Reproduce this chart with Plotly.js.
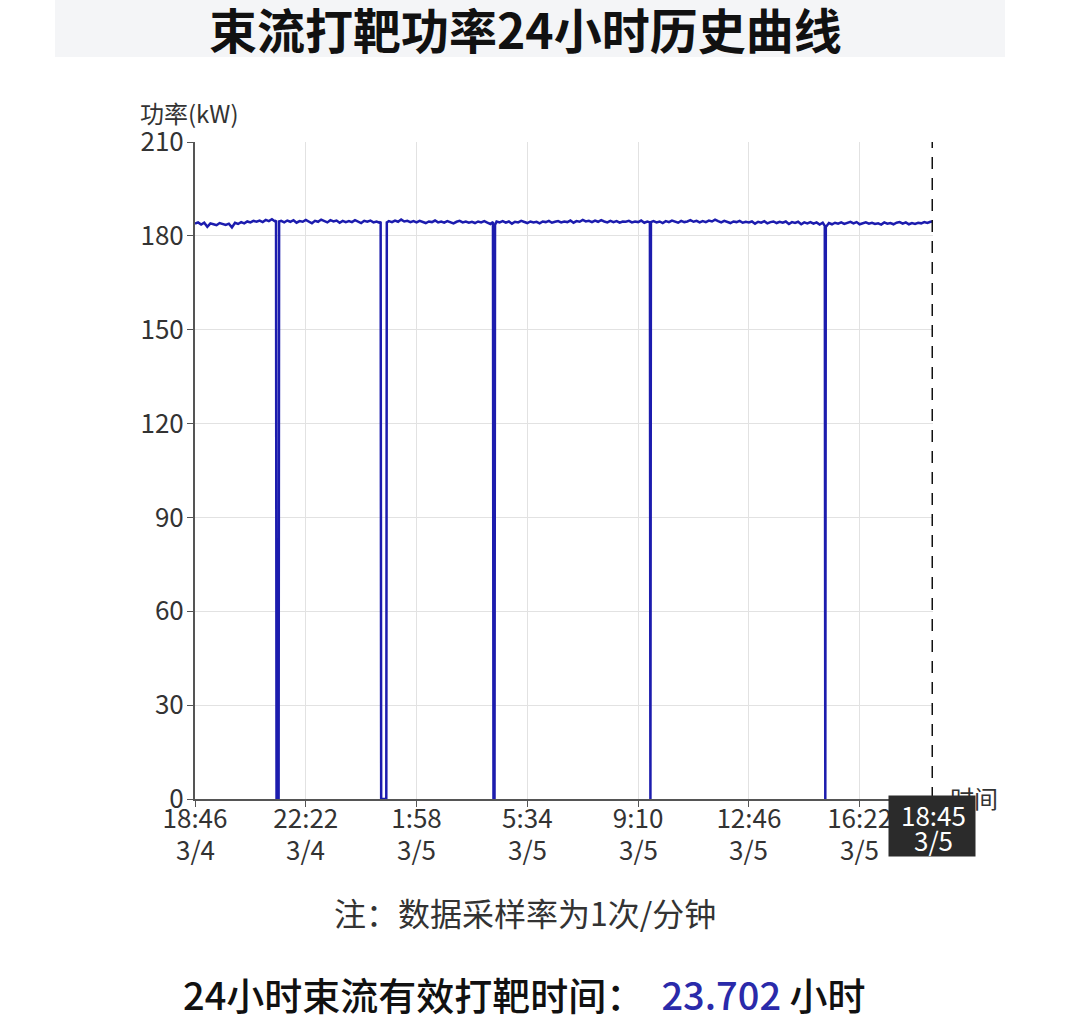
<!DOCTYPE html>
<html lang="zh-CN">
<head>
<meta charset="utf-8">
<title>束流打靶功率24小时历史曲线</title>
<script src="https://cdn.plot.ly/plotly-3.0.1.min.js"></script>
<style>
  html, body { margin: 0; padding: 0; background: #ffffff; }
  #grafico { width: 1078px; height: 1031px; }
</style>
</head>
<body>
<div id="grafico"></div>
<script>
// minutos desde 18:46 del 3/4 (muestreo, con las caídas a 0)
const minutos = [
  0, 6, 12, 18, 24, 30, 36, 42, 48, 54,
  60, 66, 72, 78, 84, 90, 96, 102, 108, 114,
  120, 126, 132, 138, 144, 150, 156, 158, 159, 163, 164, 168, 174,
  180, 186, 192, 198, 204, 210, 216, 222, 228, 234,
  240, 246, 252, 258, 264, 270, 276, 282, 288, 294,
  300, 306, 312, 318, 324, 330, 336, 342, 348, 354,
  360, 362, 363, 373, 374, 378, 384, 390, 396, 402, 408, 414,
  420, 426, 432, 438, 444, 450, 456, 462, 468, 474,
  480, 486, 492, 498, 504, 510, 516, 522, 528, 534,
  540, 546, 552, 558, 564, 570, 576, 581, 582, 584, 585, 588, 594,
  600, 606, 612, 618, 624, 630, 636, 642, 648, 654,
  660, 666, 672, 678, 684, 690, 696, 702, 708, 714,
  720, 726, 732, 738, 744, 750, 756, 762, 768, 774,
  780, 786, 792, 798, 804, 810, 816, 822, 828, 834,
  840, 846, 852, 858, 864, 870, 876, 882, 887, 888, 889, 894,
  900, 906, 912, 918, 924, 930, 936, 942, 948, 954,
  960, 966, 972, 978, 984, 990, 996, 1002, 1008, 1014,
  1020, 1026, 1032, 1038, 1044, 1050, 1056, 1062, 1068, 1074,
  1080, 1086, 1092, 1098, 1104, 1110, 1116, 1122, 1128, 1134,
  1140, 1146, 1152, 1158, 1164, 1170, 1176, 1182, 1188, 1194,
  1200, 1206, 1212, 1218, 1224, 1228, 1229, 1230, 1236, 1242, 1248, 1254,
  1260, 1266, 1272, 1278, 1284, 1290, 1296, 1302, 1308, 1314,
  1320, 1326, 1332, 1338, 1344, 1350, 1356, 1362, 1368, 1374,
  1380, 1386, 1392, 1398, 1404, 1410, 1416, 1422, 1428, 1434, 1439
];

// potencia en kW
const potencia = [
  183.9, 184.3, 183.6, 184.2, 182.9, 184.0, 183.7, 183.4, 184.1, 183.8,
  183.5, 183.9, 182.7, 184.2, 183.8, 184.4, 184.0, 184.6, 184.3, 184.8,
  184.5, 184.9, 184.4, 185.1, 184.7, 185.3, 184.6, 184.9, 0, 0, 184.6, 184.8, 184.3,
  184.9, 184.5, 185.0, 184.2, 184.7, 184.5, 185.1, 184.6, 184.0, 184.8,
  184.5, 185.2, 184.7, 184.3, 185.0, 184.6, 184.9, 184.2, 184.8, 184.4,
  184.7, 184.4, 185.0, 184.6, 184.1, 184.8, 184.5, 184.9, 184.3, 184.6,
  184.2, 184.5, 0, 0, 184.3, 184.7, 184.4, 184.9, 184.5, 185.2, 184.6, 184.8,
  184.4, 184.7, 184.3, 184.8, 184.5, 184.1, 184.6, 184.4, 184.9, 184.3,
  184.6, 184.2, 184.7, 184.4, 184.0, 184.5, 184.8, 184.3, 184.6, 184.2,
  184.5, 184.1, 184.6, 184.3, 184.7, 184.2, 183.8, 184.4, 0, 0, 183.5, 184.6, 184.3,
  184.7, 184.2, 184.6, 183.9, 184.5, 184.3, 184.8, 184.4, 184.1, 184.6,
  184.3, 184.5, 184.0, 184.6, 184.4, 184.8, 184.2, 184.5, 184.7, 184.3,
  184.6, 184.4, 184.9, 184.2, 184.7, 184.5, 185.1, 184.6, 184.8, 184.4,
  184.9, 184.5, 185.0, 184.6, 184.3, 184.8, 184.4, 184.7, 184.2, 184.6,
  184.5, 184.8, 184.3, 184.6, 184.4, 184.9, 184.2, 184.6, 184.3, 0, 184.4, 184.7,
  184.3, 184.6, 184.1, 184.7, 184.4, 184.9, 184.5, 184.2, 184.8, 184.4,
  184.6, 185.0, 184.5, 184.8, 184.3, 184.7, 184.4, 184.9, 184.6, 185.2,
  184.7, 184.3, 184.8, 184.5, 184.1, 184.6, 184.4, 184.8, 184.2, 184.5,
  184.3, 184.6, 183.9, 184.5, 184.2, 184.7, 184.0, 184.4, 184.6, 184.1,
  184.5, 184.2, 184.6, 183.8, 184.4, 184.1, 184.5, 183.7, 184.3, 184.0,
  184.4, 183.9, 184.3, 183.6, 184.2, 183.2, 0, 182.8, 184.1, 183.7, 184.2, 183.9,
  184.3, 183.8, 184.2, 184.5, 184.0, 184.4, 183.7, 184.1, 184.3, 183.9,
  184.2, 183.8, 184.0, 183.6, 184.3, 183.9, 184.1, 183.7, 184.2, 184.4,
  183.9, 184.3, 183.7, 184.1, 183.8, 184.2, 184.0, 184.4, 184.1, 184.5, 184.6
];

const posTicks = [0, 216, 432, 648, 864, 1080, 1296];
const horasTicks = ['18:46', '22:22', '1:58', '5:34', '9:10', '12:46', '16:22'];
const fechasTicks = ['3/4', '3/4', '3/5', '3/5', '3/5', '3/5', '3/5'];
const minutoFinal = 1439;
const horaFinal = '18:45';
const fechaFinal = '3/5';
const ticksPotencia = [0, 30, 60, 90, 120, 150, 180, 210];

const titulo = '束流打靶功率24小时历史曲线';
const nota = '注：数据采样率为1次/分钟';
const horasEfectivas = '23.702';

const FUENTE = '"Noto Sans CJK SC", "Noto Sans", sans-serif';

// area de trazado en pixeles: x 195..933, y 142..799
const IZQ = 195, DER = 933, ARR = 142, ABA = 799;
const px = (x) => (x - IZQ) / (DER - IZQ);
const py = (y) => (ABA - y) / (ABA - ARR);

const traza = {
  x: minutos,
  y: potencia,
  mode: 'lines',
  line: { color: '#1c1cae', width: 2.5 },
  hoverinfo: 'skip'
};

function texto(x, y, contenido, tam, color, extra) {
  return Object.assign({
    xref: 'paper', yref: 'paper', x: x, y: y,
    xanchor: 'center', yanchor: 'middle', showarrow: false,
    text: contenido,
    font: { family: FUENTE, size: tam, color: color }
  }, extra || {});
}

const anotaciones = [
  texto(px(525), py(28), titulo, 48, '#111111', {
    font: { family: FUENTE, size: 48, color: '#111111', weight: 'bold' }
  }),
  texto(px(138), py(113), '功率(kW)', 24, '#333333', { xanchor: 'left' }),
  texto(px(948), py(797), '时间', 24, '#333333', { xanchor: 'left' })
];

// segunda linea de las etiquetas del eje x (fecha)
posTicks.forEach((m, i) => {
  anotaciones.push(texto(m, py(848), fechasTicks[i], 26, '#333333', { xref: 'x' }));
});

// etiqueta oscura del ultimo punto
anotaciones.push(texto(px(932), py(826), ' ', 10, '#ffffff', {
  bgcolor: '#2b2b2b', width: 84, height: 58
}));
anotaciones.push(texto(minutoFinal, py(814), horaFinal, 26, '#ffffff', { xref: 'x' }));
anotaciones.push(texto(minutoFinal, py(839), fechaFinal, 26, '#ffffff', { xref: 'x' }));

anotaciones.push(texto(px(525), py(912), nota, 32, '#333333'));
anotaciones.push(texto(px(524), py(993),
  '24小时束流有效打靶时间：  <span style="color:#2a2aaa">' + horasEfectivas + '</span> 小时',
  38, '#111111', { font: { family: FUENTE, size: 38, color: '#111111', weight: 500 } }));

const layout = {
  width: 1078,
  height: 1031,
  margin: { l: IZQ, r: 1078 - DER, t: ARR, b: 1031 - ABA },
  paper_bgcolor: '#ffffff',
  plot_bgcolor: '#ffffff',
  showlegend: false,
  font: { family: FUENTE, color: '#333333' },
  xaxis: {
    range: [0, minutoFinal],
    tickmode: 'array',
    tickvals: posTicks,
    ticktext: horasTicks,
    tickfont: { size: 26, color: '#333333' },
    ticklabelstandoff: -10,
    ticks: 'outside',
    ticklen: 6,
    tickcolor: '#555555',
    showgrid: true,
    gridcolor: '#e2e2e2',
    gridwidth: 1,
    showline: true,
    linecolor: '#555555',
    linewidth: 2,
    zeroline: false
  },
  yaxis: {
    range: [0, 210],
    tickmode: 'array',
    tickvals: ticksPotencia,
    tickfont: { size: 26, color: '#333333' },
    ticklabelstandoff: -2,
    ticks: 'outside',
    ticklen: 6,
    tickcolor: '#555555',
    showgrid: true,
    gridcolor: '#e2e2e2',
    gridwidth: 1,
    showline: true,
    linecolor: '#555555',
    linewidth: 2,
    zeroline: false
  },
  shapes: [
    {
      type: 'rect', xref: 'paper', yref: 'paper', layer: 'below',
      x0: px(55), x1: px(1005), y0: py(57), y1: py(0),
      fillcolor: '#f4f5f7', line: { width: 0 }
    },
    {
      type: 'line', xref: 'x', yref: 'paper',
      x0: minutoFinal, x1: minutoFinal, y0: 0, y1: 1,
      line: { color: '#111111', width: 3, dash: '12px,9px' }
    }
  ],
  annotations: anotaciones
};

Plotly.newPlot('grafico', [traza], layout, { staticPlot: true, displayModeBar: false });
</script>
</body>
</html>
